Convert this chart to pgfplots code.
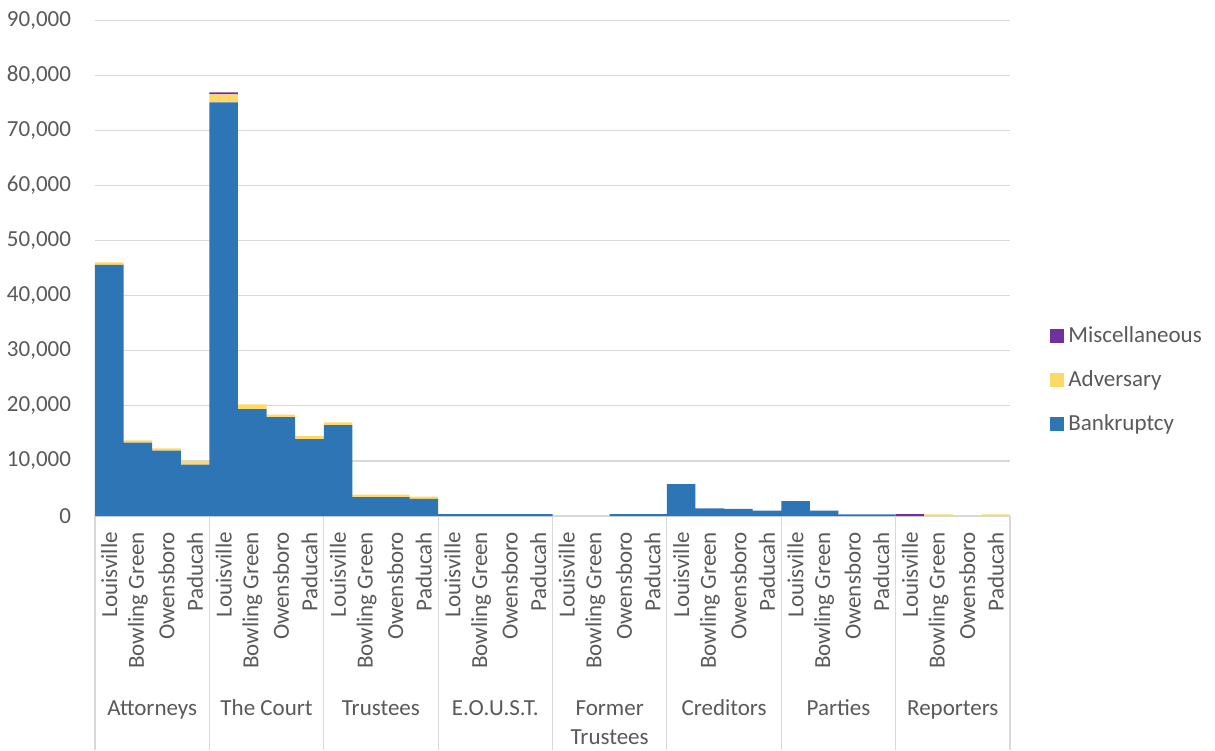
\documentclass[border=0pt]{standalone}
\usepackage{fontspec}
\setmainfont{Carlito}
\usepackage{pgfplots}
\usepackage{pgfplotstable}
\pgfplotsset{compat=1.18}
\definecolor{bankblue}{HTML}{2E75B6}
\definecolor{advyellow}{HTML}{FFD966}
\definecolor{miscpurple}{HTML}{7030A0}
\definecolor{txtgray}{HTML}{595959}
\definecolor{gridgray}{HTML}{D9D9D9}
\pgfplotsset{sq legend/.style={legend image code/.code={\path[##1, draw=none] (0pt,-3.5pt) rectangle (7pt,3.5pt);}}}

% filings by office and court location
\pgfplotstableread{
x bank adv misc
0 45600 490 0
1 13310 440 0
2 11860 430 0
3 9320 670 0
4 75130 1450 360
5 19430 850 0
6 17980 420 0
7 13980 550 0
8 16530 490 0
9 3450 420 0
10 3450 420 0
11 3090 410 0
12 350 0 0
13 350 0 0
14 350 0 0
15 350 0 0
16 0 0 0
17 0 0 0
18 350 0 0
19 350 0 0
20 5810 0 0
21 1400 0 0
22 1300 0 0
23 960 0 0
24 2720 0 0
25 960 0 0
26 300 0 0
27 300 0 0
28 0 0 350
29 0 300 0
30 0 0 0
31 0 300 0
}\datatable

\begin{document}
\begin{tikzpicture}[font=\fontsize{11.5pt}{14pt}\selectfont]
\path[use as bounding box] (-47.5pt,-117pt) rectangle (560pt,258pt);
\begin{axis}[
    scale only axis, width=457.5pt, height=247.75pt,
    ybar stacked, bar width=1,
    xmin=-0.5, xmax=31.5, ymin=0, ymax=90000,
    enlarge x limits=false, enlarge y limits=false,
    axis x line*=bottom, axis y line*=left,
    x axis line style={gridgray, line width=0.6pt},
    y axis line style={draw=none},
    ymajorgrids, grid style={gridgray, line width=0.6pt},
    ytick distance=10000, scaled y ticks=false,
    major tick length=0pt, tick style={draw=none},
    /pgf/number format/1000 sep={,},
    /pgf/number format/assume math mode=true,
    tick label style={text=txtgray},
    yticklabel style={inner sep=0pt, outer xsep=12pt},
    xtick=data,
    xticklabels={Louisville,Bowling Green,Owensboro,Paducah,
                 Louisville,Bowling Green,Owensboro,Paducah,
                 Louisville,Bowling Green,Owensboro,Paducah,
                 Louisville,Bowling Green,Owensboro,Paducah,
                 Louisville,Bowling Green,Owensboro,Paducah,
                 Louisville,Bowling Green,Owensboro,Paducah,
                 Louisville,Bowling Green,Owensboro,Paducah,
                 Louisville,Bowling Green,Owensboro,Paducah},
    xticklabel style={rotate=90, anchor=east, inner sep=0pt, outer xsep=8pt},
    clip=false,
    reverse legend,
    sq legend,
    legend cell align=left,
    legend style={at={(1.0437,0.2745)}, anchor=west, draw=none, fill=none,
        text=txtgray, row sep=8.5pt, inner sep=0pt},
]
\addplot[fill=bankblue, draw=none] table[x=x, y=bank] {\datatable};
\addplot[fill=advyellow, draw=none] table[x=x, y=adv] {\datatable};
\addplot[fill=miscpurple, draw=none] table[x=x, y=misc] {\datatable};
\legend{Bankruptcy, Adversary, Miscellaneous}

% group separators below the axis
\draw[gridgray, line width=0.6pt] (axis cs:-0.5,0) -- ++(0pt,-117pt);
\draw[gridgray, line width=0.6pt] (axis cs:3.5,0) -- ++(0pt,-117pt);
\draw[gridgray, line width=0.6pt] (axis cs:7.5,0) -- ++(0pt,-117pt);
\draw[gridgray, line width=0.6pt] (axis cs:11.5,0) -- ++(0pt,-117pt);
\draw[gridgray, line width=0.6pt] (axis cs:15.5,0) -- ++(0pt,-117pt);
\draw[gridgray, line width=0.6pt] (axis cs:19.5,0) -- ++(0pt,-117pt);
\draw[gridgray, line width=0.6pt] (axis cs:23.5,0) -- ++(0pt,-117pt);
\draw[gridgray, line width=0.6pt] (axis cs:27.5,0) -- ++(0pt,-117pt);
\draw[gridgray, line width=0.6pt] (axis cs:31.5,0) -- ++(0pt,-117pt);

\node[text=txtgray, anchor=base, yshift=-99.5pt] at (axis cs:1.5,0) {Attorneys};
\node[text=txtgray, anchor=base, yshift=-99.5pt] at (axis cs:5.5,0) {The Court};
\node[text=txtgray, anchor=base, yshift=-99.5pt] at (axis cs:9.5,0) {Trustees};
\node[text=txtgray, anchor=base, yshift=-99.5pt] at (axis cs:13.5,0) {E.O.U.S.T.};
\node[text=txtgray, anchor=base, yshift=-99.5pt] at (axis cs:17.5,0) {Former};
\node[text=txtgray, anchor=base, yshift=-114pt] at (axis cs:17.5,0) {Trustees};
\node[text=txtgray, anchor=base, yshift=-99.5pt] at (axis cs:21.5,0) {Creditors};
\node[text=txtgray, anchor=base, yshift=-99.5pt] at (axis cs:25.5,0) {Parties};
\node[text=txtgray, anchor=base, yshift=-99.5pt] at (axis cs:29.5,0) {Reporters};
\end{axis}
\end{tikzpicture}
\end{document}
